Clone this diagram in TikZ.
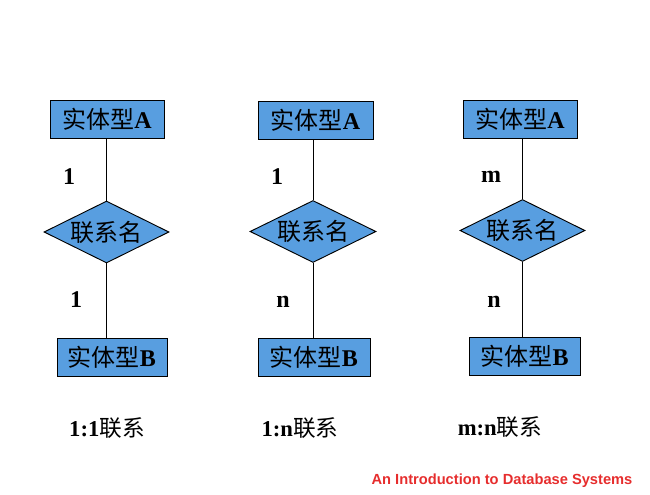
\documentclass[tikz,border=0pt]{standalone}
\usepackage{fontspec}
\setmainfont{Liberation Serif}
\newfontfamily\cjk{Noto Sans CJK SC}
\newfontfamily\footfont{Liberation Sans}
\usetikzlibrary{positioning}
\usetikzlibrary{shapes.geometric}
\definecolor{erblue}{RGB}{88,158,224}
\definecolor{footred}{RGB}{230,45,45}
\tikzset{
  entity/.style={draw=black, fill=erblue, line width=0.7pt, inner sep=0pt,
                 minimum height=28.5pt, font=\fontsize{18}{20}\selectfont},
  relation/.style={diamond, draw=black, fill=erblue, line width=0.7pt, inner sep=0pt,
                   shape aspect=2, minimum width=93.75pt, minimum height=46.5pt,
                   font=\fontsize{18}{20}\selectfont\cjk},
  card/.style={font=\fontsize{18}{20}\selectfont\bfseries},
  kind/.style={font=\fontsize{17}{20}\selectfont}
}
\newcommand{\ent}[1]{{\cjk 实体型}\textbf{#1}}
\begin{document}
\begin{tikzpicture}[x=0.75pt, y=-0.75pt]
  \useasboundingbox (0,0) rectangle (650,495);

  % 1:1
  \node[entity, minimum width=85.5pt] (a1) at (107,119) {\ent{A}};
  \node[relation] (r1) at (106.5,232) {联系名};
  \node[entity, minimum width=82.5pt] (b1) at (112,357) {\ent{B}};
  \draw (r1.north) -- (r1.north |- a1.south);
  \draw (r1.south) -- (r1.south |- b1.north);
  \node[card] (c1a) at (69,177) {1};
  \node[card] (c1b) at (76,300) {1};
  \node[kind] (k1) at (107,428) {\textbf{1:1}{\cjk 联系}};

  % 1:n
  \node[entity, minimum width=86.25pt] (a2) at (315.5,120) {\ent{A}};
  \node[relation, minimum width=94.5pt] (r2) at (313,231.5) {联系名};
  \node[entity, minimum width=84pt] (b2) at (314,357.5) {\ent{B}};
  \draw (r2.north) -- (r2.north |- a2.south);
  \draw (r2.south) -- (r2.south |- b2.north);
  \node[card] (c2a) at (277,177) {1};
  \node[card] (c2b) at (283,302) {n};
  \node[kind] (k2) at (300,428) {\textbf{1:n}{\cjk 联系}};

  % m:n
  \node[entity, minimum width=85.5pt] (a3) at (520,119) {\ent{A}};
  \node[relation] (r3) at (522.5,230.5) {联系名};
  \node[entity, minimum width=83.25pt] (b3) at (524.5,356) {\ent{B}};
  \draw (r3.north) -- (r3.north |- a3.south);
  \draw (r3.south) -- (r3.south |- b3.north);
  \node[card] (c3a) at (491,177) {m};
  \node[card] (c3b) at (494,302) {n};
  \node[kind] (k3) at (500,427) {\textbf{m:n}{\cjk 联系}};

  % Footer
  \node[font=\fontsize{11}{13}\selectfont\footfont\bfseries, text=footred] (foot) at (502,481)
    {An Introduction to Database Systems};
\end{tikzpicture}
\end{document}
